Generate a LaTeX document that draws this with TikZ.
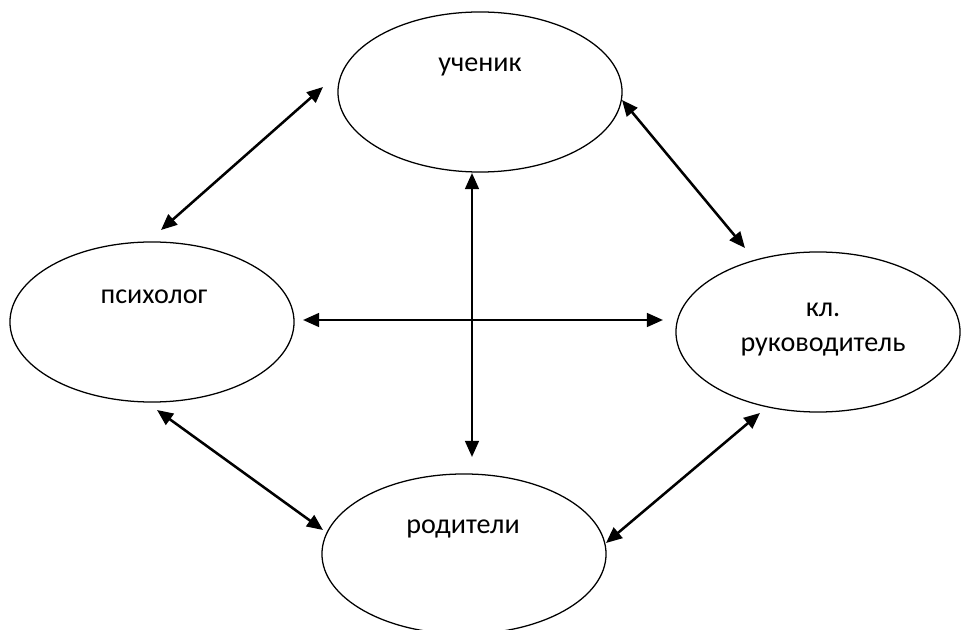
\documentclass[tikz,border=0pt]{standalone}
\usepackage{fontspec}
\setmainfont{Carlito}
\usetikzlibrary{shapes.geometric,arrows.meta}
\tikzset{
	oval/.style={draw, ellipse, line width=0.9pt, minimum width=7.1cm, minimum height=4cm, inner sep=0pt},
	role/.style={font=\fontsize{20}{25}\selectfont, align=center, anchor=base},
	link/.style={{Triangle[length=4mm,width=3.4mm]}-{Triangle[length=4mm,width=3.4mm]}, line width=1.8pt}
}
\begin{document}
\begin{tikzpicture}[x=0.025cm, y=-0.025cm]
		\useasboundingbox (0, 0) rectangle (963, 630);
		% ellipses
		\node[oval] (uch) at (480, 92) {};
		\node[oval] (psy) at (152, 322) {};
		\node[oval] (ruk) at (818, 332) {};
		\node[oval] (rod) at (464, 554) {};
		% texts
		\node[role] (uchtext) at (480, 72) {ученик};
		\node[role] (psytext) at (154, 304) {психолог};
		\node[role] (ruktext) at (823, 352) {кл.\\руководитель};
		\node[role] (rodtext) at (463, 533) {родители};
		% arrow ends
		\coordinate (uch-w) at (323, 87);
		\coordinate (psy-n) at (161, 230);
		\coordinate (uch-e) at (622, 100);
		\coordinate (ruk-n) at (745, 248);
		\coordinate (uch-s) at (472, 173);
		\coordinate (rod-n) at (472, 457);
		\coordinate (psy-e) at (303, 320);
		\coordinate (ruk-w) at (663, 320);
		\coordinate (psy-s) at (157, 410);
		\coordinate (rod-w) at (323, 530);
		\coordinate (ruk-s) at (760, 413);
		\coordinate (rod-e) at (606, 543);
		% arrows
		\draw[link] (uch-w) -- (psy-n);
		\draw[link] (uch-e) -- (ruk-n);
		\draw[link] (uch-s) -- (rod-n);
		\draw[link] (psy-e) -- (ruk-w);
		\draw[link] (psy-s) -- (rod-w);
		\draw[link] (ruk-s) -- (rod-e);
	\end{tikzpicture}
\end{document}
